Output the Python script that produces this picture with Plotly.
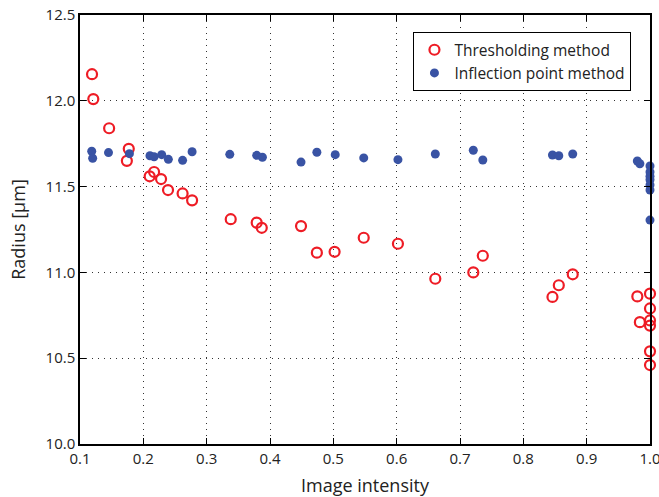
import plotly.graph_objects as go

thr_x = [0.119, 0.121, 0.146, 0.174, 0.177, 0.210, 0.217, 0.228, 0.239, 0.262, 0.277,
         0.338, 0.379, 0.387, 0.449, 0.474, 0.502, 0.548, 0.602, 0.661, 0.721, 0.736,
         0.846, 0.856, 0.878, 0.980, 0.984, 1.0, 1.0, 1.0, 1.0, 1.0, 1.0]
thr_y = [12.155, 12.01, 11.84, 11.65, 11.72, 11.56, 11.585, 11.544, 11.48, 11.46, 11.42,
         11.31, 11.29, 11.26, 11.27, 11.115, 11.12, 11.202, 11.167, 10.963, 11.0, 11.097,
         10.857, 10.925, 10.989, 10.86, 10.71, 10.876, 10.79, 10.72, 10.69, 10.54, 10.46]

inf_x = [0.1185, 0.120, 0.145, 0.178, 0.2105, 0.217, 0.229, 0.2395, 0.262, 0.277,
         0.3365, 0.379, 0.388, 0.449, 0.474, 0.503, 0.548, 0.602, 0.661, 0.721, 0.736,
         0.846, 0.856, 0.878, 0.980, 0.984, 1.0, 1.0, 1.0, 1.0, 1.0, 1.0, 1.0]
inf_y = [11.706, 11.665, 11.698, 11.692, 11.68, 11.674, 11.686, 11.659, 11.653, 11.703,
         11.688, 11.682, 11.671, 11.643, 11.70, 11.686, 11.667, 11.657, 11.69, 11.712, 11.655,
         11.684, 11.68, 11.69, 11.649, 11.633, 11.62, 11.585, 11.56, 11.54, 11.51, 11.48, 11.305]

x_ticks = [0.1, 0.2, 0.3, 0.4, 0.5, 0.6, 0.7, 0.8, 0.9, 1.0]
y_ticks = [10.0, 10.5, 11.0, 11.5, 12.0, 12.5]

font = "Open Sans, Noto Sans, sans-serif"

fig = go.Figure()
fig.add_trace(go.Scatter(
    x=thr_x, y=thr_y, mode="markers", name="Thresholding method",
    marker=dict(symbol="circle-open", size=10, color="#ee1c25", line=dict(width=2.2, color="#ee1c25")),
    cliponaxis=False,
))
fig.add_trace(go.Scatter(
    x=inf_x, y=inf_y, mode="markers", name="Inflection point method",
    marker=dict(symbol="circle", size=9, color="#3953a4"),
    cliponaxis=False,
))

axis_common = dict(
    showline=True, linecolor="black", linewidth=1.5, mirror="ticks",
    ticks="inside", ticklen=6, tickcolor="black", tickwidth=1.2,
    showgrid=True, gridcolor="#333", griddash="1px,5px", gridwidth=1.2,
    zeroline=False, automargin=False, ticklabeloverflow="allow",
    tickfont=dict(family=font, size=15, color="#222"),
    title_font=dict(family=font, size=18, color="#222"),
)

fig.update_xaxes(range=[0.1, 1.0], tickvals=x_ticks, tickformat=".1f",
                 title_text="Image intensity", **axis_common)
fig.update_yaxes(range=[10.0, 12.5], tickvals=y_ticks, tickformat=".1f",
                 title_text="Radius [μm]", **axis_common)

fig.update_layout(
    width=659, height=497,
    margin=dict(l=80, r=9, t=15, b=53),
    plot_bgcolor="white", paper_bgcolor="white",
    font=dict(family=font, size=15, color="#222"),
    legend=dict(x=0.585, y=0.96, xanchor="left", yanchor="top",
                bordercolor="black", borderwidth=1, bgcolor="white",
                font=dict(family=font, size=15.5, color="#222"),
                itemwidth=30, tracegroupgap=0),
    showlegend=True,
)

fig.write_html("out.html", config={"displayModeBar": False},
               post_script="document.body.style.margin='0';")
